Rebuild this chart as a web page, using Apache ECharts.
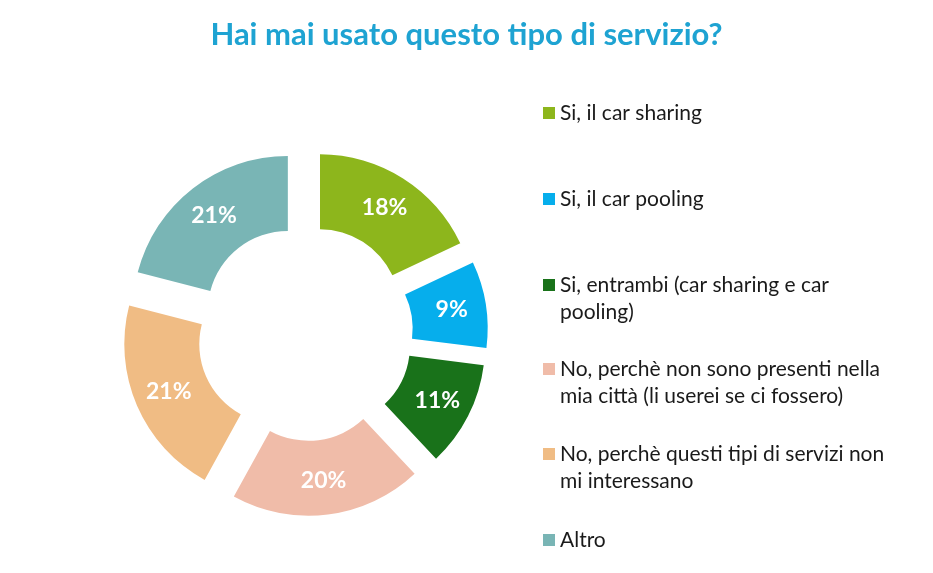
<!DOCTYPE html>
<html>
<head>
<meta charset="utf-8">
<title>Hai mai usato questo tipo di servizio?</title>
<script src="https://cdn.jsdelivr.net/npm/echarts@6/dist/echarts.min.js"></script>
<style>
  html, body { margin: 0; padding: 0; background: #fff; }
  #chart { width: 933px; height: 573px; }
</style>
</head>
<body>
<div id="chart"></div>
<script>
// dati
const categories = [
  'Si, il car sharing',
  'Si, il car pooling',
  'Si, entrambi (car sharing e car\npooling)',
  'No, perchè non sono presenti nella\nmia città (li userei se ci fossero)',
  'No, perchè questi tipi di servizi non\nmi interessano',
  'Altro'
]
const values = [18, 9, 11, 20, 21, 21]
const colors = ['#8db61c', '#06aeec', '#19721a', '#f0bca9', '#f0bc84', '#79b5b5']
const legendCenters = [113, 199, 285, 369, 454, 540]

const font = 'Lato, "Open Sans", sans-serif'
const lineH = 27

const chart = echarts.init(document.getElementById('chart'))

// una legenda per voce; per le voci su due righe si aggiunge una riga vuota sopra
// così il quadratino resta allineato alla prima riga
const legends = categories.map((name, i) => {
  const twoLines = name.indexOf('\n') >= 0
  return {
    data: [name],
    orient: 'vertical',
    left: 543,
    top: legendCenters[i] - (twoLines ? lineH * 1.5 : lineH / 2),
    padding: 0,
    itemWidth: 12,
    itemHeight: 12,
    itemGap: 0,
    icon: 'rect',
    selectedMode: false,
    formatter: n => (twoLines ? ' \n' + n : n),
    textStyle: {
      fontFamily: font,
      fontSize: 21,
      color: '#1a1a1a',
      lineHeight: lineH
    }
  }
})

const option = {
  animation: false,
  color: colors,
  title: {
    text: 'Hai mai usato questo tipo di servizio?',
    left: 'center',
    top: 14,
    textStyle: {
      fontFamily: font,
      fontSize: 31,
      fontWeight: 'bold',
      color: '#1ea3d2'
    }
  },
  legend: legends,
  series: [{
    type: 'pie',
    center: [305, 333],
    radius: [80, 155],
    startAngle: 90,
    selectedMode: 'multiple',
    selectedOffset: 28,
    emphasis: { scale: false },
    label: {
      position: 'inside',
      formatter: '{c}%',
      color: '#fff',
      fontFamily: font,
      fontSize: 23,
      fontWeight: 'bold'
    },
    labelLine: { show: false },
    data: categories.map((name, i) => ({ name, value: values[i], selected: true }))
  }]
}

chart.setOption(option)
</script>
</body>
</html>
